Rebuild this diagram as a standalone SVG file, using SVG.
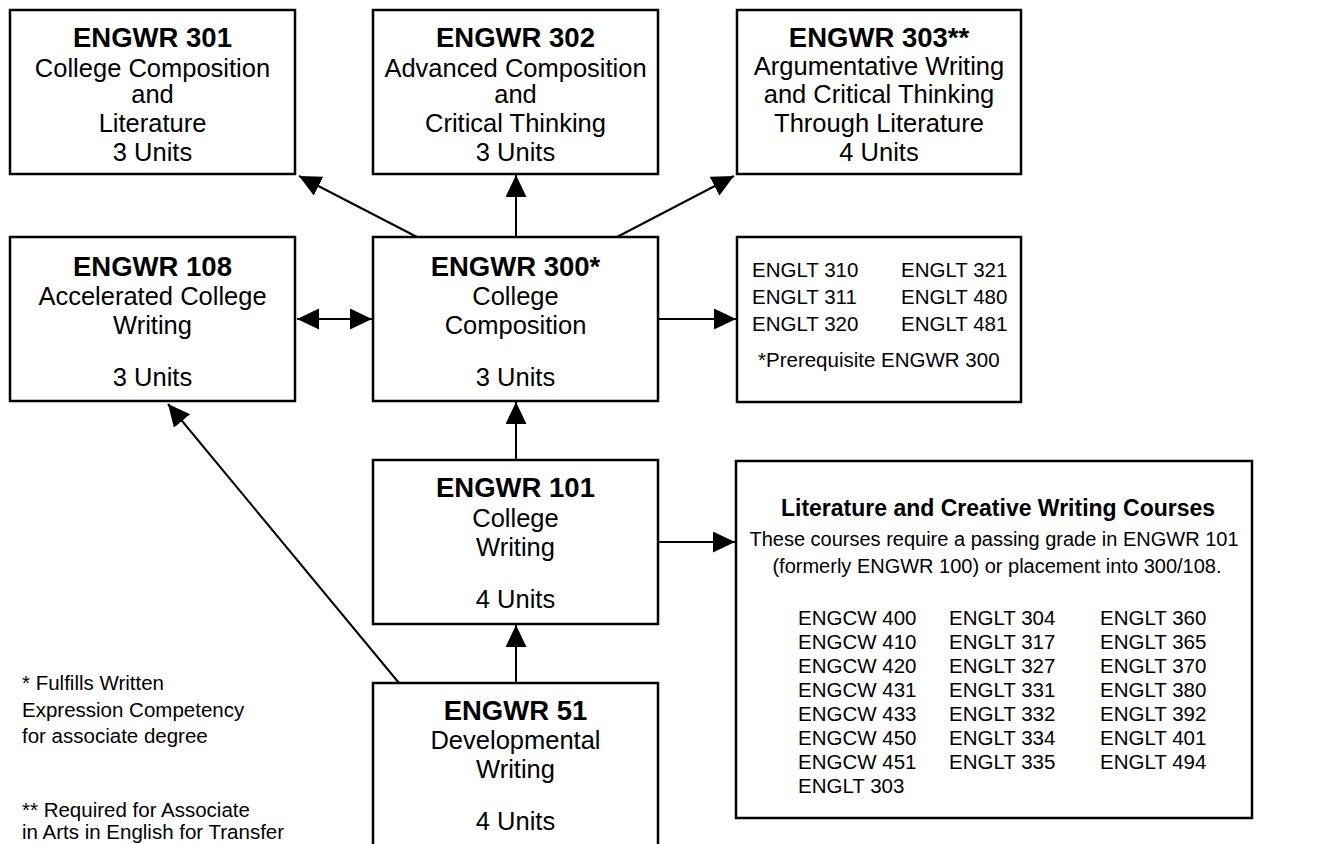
<svg xmlns="http://www.w3.org/2000/svg" width="1333" height="844" viewBox="0 0 1333 844">
<defs>
<style>
.box{fill:#fff;stroke:#000;stroke-width:2.5}
.t{font-family:"Liberation Sans",Arial,sans-serif;fill:#000}
.h{font-size:27.5px;font-weight:bold;text-anchor:middle}
.b{font-size:25.5px;text-anchor:middle}
.s{font-size:20.5px}
.c{font-size:20.5px}
.conn{stroke:#000;stroke-width:2;fill:none;marker-end:url(#ah)}
</style>
<marker id="ah" markerUnits="userSpaceOnUse" markerWidth="24" markerHeight="22" refX="22" refY="10.5" orient="auto-start-reverse">
<path d="M0,0 L22,10.5 L0,21 Z" fill="#000"/>
</marker>
</defs>
<rect width="1333" height="844" fill="#fff"/>

<g id="connectors">
<line class="conn" x1="417" y1="237" x2="299" y2="176"/>
<line class="conn" x1="516" y1="237" x2="516" y2="175"/>
<line class="conn" x1="617" y1="237" x2="734" y2="176"/>
<line class="conn" x1="297" y1="319" x2="372" y2="319" style="marker-start:url(#ah)"/>
<line class="conn" x1="658" y1="319" x2="736" y2="319"/>
<line class="conn" x1="516" y1="460" x2="516" y2="402"/>
<line class="conn" x1="516" y1="683" x2="516" y2="625"/>
<line class="conn" x1="658" y1="542" x2="735" y2="542"/>
<line class="conn" x1="399" y1="683" x2="168" y2="404"/>
</g>

<g id="engwr301">
<rect class="box" x="10" y="10" width="285" height="164"/>
<text class="t h" x="152.5" y="47">ENGWR 301</text>
<text class="t b" x="152.5" y="77">College Composition</text>
<text class="t b" x="152.5" y="103">and</text>
<text class="t b" x="152.5" y="132">Literature</text>
<text class="t b" x="152.5" y="161">3 Units</text>
</g>

<g id="engwr302">
<rect class="box" x="373" y="10" width="285" height="164"/>
<text class="t h" x="515.5" y="47">ENGWR 302</text>
<text class="t b" x="515.5" y="77">Advanced Composition</text>
<text class="t b" x="515.5" y="103">and</text>
<text class="t b" x="515.5" y="132">Critical Thinking</text>
<text class="t b" x="515.5" y="161">3 Units</text>
</g>

<g id="engwr303">
<rect class="box" x="737" y="10" width="284" height="164"/>
<text class="t h" x="879" y="47">ENGWR 303**</text>
<text class="t b" x="879" y="75">Argumentative Writing</text>
<text class="t b" x="879" y="103">and Critical Thinking</text>
<text class="t b" x="879" y="132">Through Literature</text>
<text class="t b" x="879" y="161">4 Units</text>
</g>

<g id="engwr108">
<rect class="box" x="10" y="237" width="285" height="164"/>
<text class="t h" x="152.5" y="276">ENGWR 108</text>
<text class="t b" x="152.5" y="305">Accelerated College</text>
<text class="t b" x="152.5" y="334">Writing</text>
<text class="t b" x="152.5" y="386">3 Units</text>
</g>

<g id="engwr300">
<rect class="box" x="373" y="237" width="285" height="164"/>
<text class="t h" x="515.5" y="276">ENGWR 300*</text>
<text class="t b" x="515.5" y="305">College</text>
<text class="t b" x="515.5" y="334">Composition</text>
<text class="t b" x="515.5" y="386">3 Units</text>
</g>

<g id="englt300">
<rect class="box" x="737" y="237" width="284" height="165"/>
<text class="t s" x="752" y="277">ENGLT 310</text>
<text class="t s" x="752" y="304">ENGLT 311</text>
<text class="t s" x="752" y="331">ENGLT 320</text>
<text class="t s" x="901" y="277">ENGLT 321</text>
<text class="t s" x="901" y="304">ENGLT 480</text>
<text class="t s" x="901" y="331">ENGLT 481</text>
<text class="t s" x="758" y="367">*Prerequisite ENGWR 300</text>
</g>

<g id="engwr101">
<rect class="box" x="373" y="460" width="285" height="164"/>
<text class="t h" x="515.5" y="497">ENGWR 101</text>
<text class="t b" x="515.5" y="527">College</text>
<text class="t b" x="515.5" y="556">Writing</text>
<text class="t b" x="515.5" y="608">4 Units</text>
</g>

<g id="engwr51">
<rect class="box" x="373" y="683" width="285" height="175"/>
<text class="t h" x="515.5" y="720">ENGWR 51</text>
<text class="t b" x="515.5" y="749">Developmental</text>
<text class="t b" x="515.5" y="778">Writing</text>
<text class="t b" x="515.5" y="830">4 Units</text>
</g>

<g id="litcw">
<rect class="box" x="736" y="461" width="516" height="357"/>
<text class="t" x="998" y="516" font-size="23" font-weight="bold" text-anchor="middle">Literature and Creative Writing Courses</text>
<text class="t" x="994" y="546" font-size="20" text-anchor="middle">These courses require a passing grade in ENGWR 101</text>
<text class="t" x="997" y="573" font-size="20" text-anchor="middle">(formerly ENGWR 100) or placement into 300/108.</text>
<g class="t c">
<text x="798" y="625">ENGCW 400</text>
<text x="798" y="649">ENGCW 410</text>
<text x="798" y="673">ENGCW 420</text>
<text x="798" y="697">ENGCW 431</text>
<text x="798" y="721">ENGCW 433</text>
<text x="798" y="745">ENGCW 450</text>
<text x="798" y="769">ENGCW 451</text>
<text x="798" y="793">ENGLT 303</text>
<text x="949" y="625">ENGLT 304</text>
<text x="949" y="649">ENGLT 317</text>
<text x="949" y="673">ENGLT 327</text>
<text x="949" y="697">ENGLT 331</text>
<text x="949" y="721">ENGLT 332</text>
<text x="949" y="745">ENGLT 334</text>
<text x="949" y="769">ENGLT 335</text>
<text x="1100" y="625">ENGLT 360</text>
<text x="1100" y="649">ENGLT 365</text>
<text x="1100" y="673">ENGLT 370</text>
<text x="1100" y="697">ENGLT 380</text>
<text x="1100" y="721">ENGLT 392</text>
<text x="1100" y="745">ENGLT 401</text>
<text x="1100" y="769">ENGLT 494</text>
</g>
</g>

<g id="footnotes" class="t" font-size="20.5">
<text x="22" y="690">* Fulfills Written</text>
<text x="22" y="717">Expression Competency</text>
<text x="22" y="743">for associate degree</text>
<text x="22" y="817">** Required for Associate</text>
<text x="22" y="839">in Arts in English for Transfer</text>
</g>
</svg>
